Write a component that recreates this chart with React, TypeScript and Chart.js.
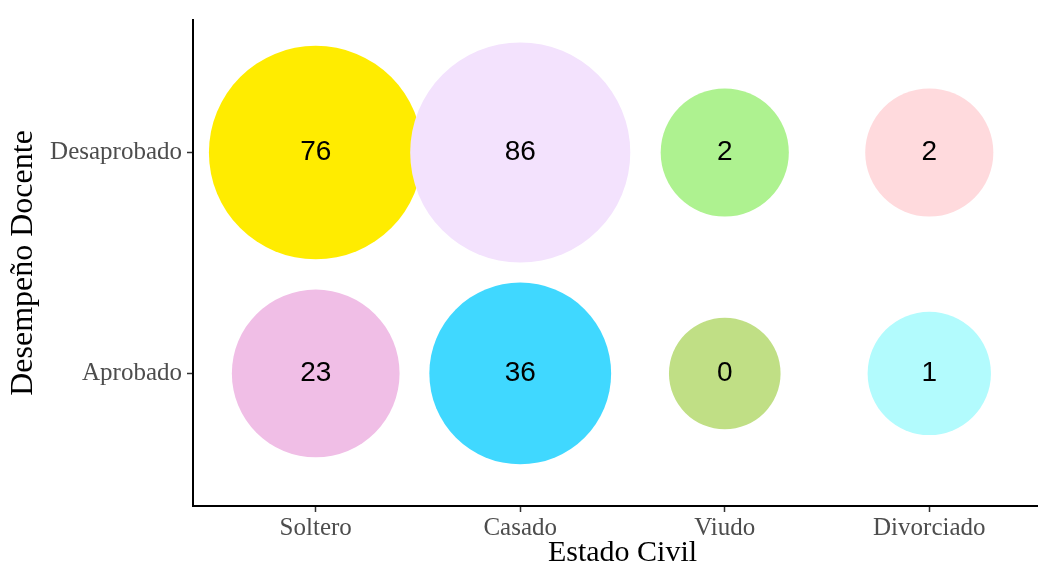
import React, { useEffect, useRef } from 'react';
import { Chart, registerables } from 'chart.js';

Chart.register(...registerables);

// ---- Data ----
const categories = ['Soltero', 'Casado', 'Viudo', 'Divorciado'];
const performanceLevels = ['Aprobado', 'Desaprobado'];
const desaprobadoCounts = [76, 86, 2, 2];
const aprobadoCounts = [23, 36, 0, 1];
const desaprobadoColors = ['#FFEC00', '#F3E2FD', '#AEF290', '#FFDADD'];
const aprobadoColors = ['#F0BEE6', '#40D8FF', '#C0DF85', '#B2FBFD'];

// size mapping (radius grows with sqrt of count)
const radiusFor = (v: number) => 55.8 + 5.85 * Math.sqrt(v);

type Pt = { x: number; y: number; r: number; v: number };

const points: Pt[] = [];
const colors: string[] = [];
categories.forEach((_, i) => {
  points.push({ x: i + 1, y: 2, v: desaprobadoCounts[i], r: radiusFor(desaprobadoCounts[i]) });
  colors.push(desaprobadoColors[i]);
});
categories.forEach((_, i) => {
  points.push({ x: i + 1, y: 1, v: aprobadoCounts[i], r: radiusFor(aprobadoCounts[i]) });
  colors.push(aprobadoColors[i]);
});

const labelPlugin = {
  id: 'bubbleLabels',
  afterDatasetsDraw(chart: any) {
    const ctx = chart.ctx;
    const meta = chart.getDatasetMeta(0);
    ctx.save();
    ctx.font = '28px "Liberation Sans", Arial, sans-serif';
    ctx.fillStyle = '#000000';
    ctx.textAlign = 'center';
    ctx.textBaseline = 'middle';
    meta.data.forEach((el: any, i: number) => {
      const p = chart.data.datasets[0].data[i] as Pt;
      ctx.fillText(String(p.v), el.x, el.y);
    });
    ctx.restore();
  },
};

export default function App() {
  const canvasRef = useRef<HTMLCanvasElement | null>(null);

  useEffect(() => {
    document.body.style.margin = '0';
    const canvas = canvasRef.current;
    if (!canvas) return;
    const serif = '"Liberation Serif", "Times New Roman", serif';
    const chart = new Chart(canvas, {
      type: 'bubble',
      data: {
        datasets: [
          {
            data: points as any,
            backgroundColor: colors,
            hoverBackgroundColor: colors,
            borderWidth: 0,
            hoverBorderWidth: 0,
            clip: false as any,
          },
        ],
      },
      options: {
        animation: false,
        responsive: false,
        devicePixelRatio: 1,
        layout: { autoPadding: false, padding: { top: 16, left: 0, right: 0, bottom: 0 } },
        plugins: {
          legend: { display: false },
          tooltip: { enabled: false },
        },
        scales: {
          x: {
            type: 'linear',
            min: 0.4,
            max: 4.6,
            afterBuildTicks: (scale: any) => {
              scale.ticks = categories.map((_, i) => ({ value: i + 1 }));
            },
            afterFit: (scale: any) => {
              scale.height = 61;
            },
            ticks: {
              autoSkip: false,
              maxRotation: 0,
              padding: 1,
              color: '#4D4D4D',
              font: { family: serif, size: 25 },
              callback: (v: any) => categories[Number(v) - 1] ?? '',
            },
            grid: {
              drawOnChartArea: false,
              tickLength: 6,
              tickColor: '#333333',
              tickWidth: 1.5,
            },
            border: { color: '#000000', width: 2 },
            title: {
              display: true,
              text: 'Estado Civil',
              color: '#000000',
              font: { family: serif, size: 30, lineHeight: 1.2 },
              padding: { top: 0, bottom: -4 },
            },
          },
          y: {
            type: 'linear',
            min: 0.4,
            max: 2.6,
            afterBuildTicks: (scale: any) => {
              scale.ticks = performanceLevels.map((_, i) => ({ value: i + 1 }));
            },
            afterFit: (scale: any) => {
              scale.width = 193;
            },
            ticks: {
              autoSkip: false,
              padding: 5,
              color: '#4D4D4D',
              font: { family: serif, size: 25 },
              callback: (v: any) => performanceLevels[Number(v) - 1] ?? '',
            },
            grid: {
              drawOnChartArea: false,
              tickLength: 6,
              tickColor: '#333333',
              tickWidth: 1.5,
            },
            border: { color: '#000000', width: 2 },
            title: {
              display: true,
              text: 'Desempeño Docente',
              color: '#000000',
              font: { family: serif, size: 32, lineHeight: 1.2 },
              padding: { top: 4, bottom: 0 },
            },
          },
        },
      },
      plugins: [labelPlugin],
    });
    return () => chart.destroy();
  }, []);

  return (
    <div
      style={{
        position: 'fixed',
        left: 0,
        top: 0,
        width: 1038,
        height: 567,
        overflow: 'hidden',
        background: '#ffffff',
      }}
    >
      <canvas ref={canvasRef} width={1052} height={567} style={{ display: 'block', width: 1052, height: 567 }} />
    </div>
  );
}
